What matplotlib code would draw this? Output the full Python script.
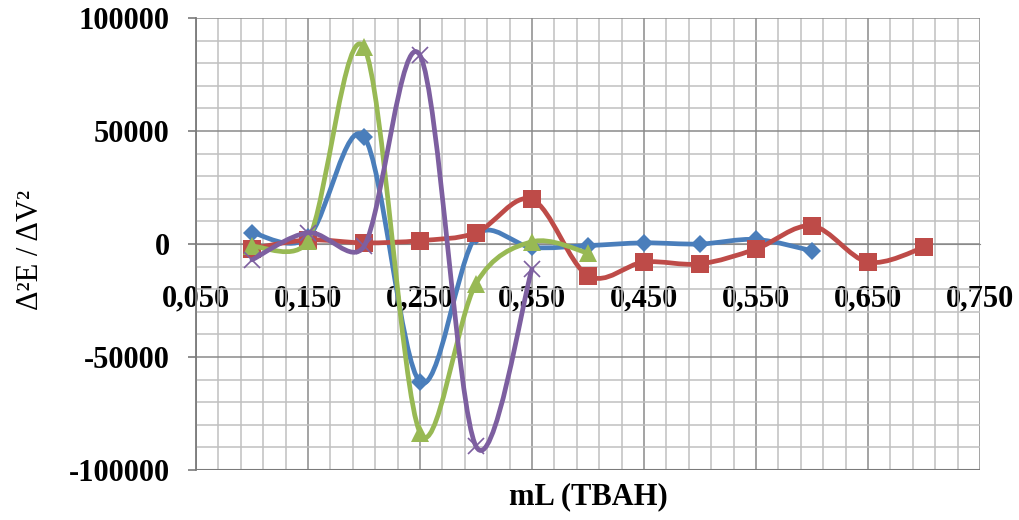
import numpy as np
import matplotlib
matplotlib.use("Agg")
import matplotlib.pyplot as plt
from matplotlib.path import Path
from matplotlib.patches import PathPatch
from matplotlib.ticker import FuncFormatter, MultipleLocator, FixedLocator

# titration volumes (mL) and second derivative values for each run
x_blue = [0.10, 0.15, 0.20, 0.25, 0.30, 0.35, 0.40, 0.45, 0.50, 0.55, 0.60]
blue = [5000, 3000, 47500, -61000, 3500, -1500, -700, 500, 0, 2000, -3000]

x_red = [0.10, 0.15, 0.20, 0.25, 0.30, 0.35, 0.40, 0.45, 0.50, 0.55, 0.60, 0.65, 0.70]
red = [-2000, 1800, 500, 1500, 5000, 19700, -14000, -8000, -8800, -2200, 8000, -8000, -1500]

x_green = [0.10, 0.15, 0.20, 0.25, 0.30, 0.35, 0.40]
green = [-1000, 1500, 87000, -83500, -17500, 1000, -4000]

x_purple = [0.10, 0.15, 0.20, 0.25, 0.30, 0.35]
purple = [-7000, 5000, -1000, 83500, -89500, -11000]

x_ticks = [0.05, 0.15, 0.25, 0.35, 0.45, 0.55, 0.65, 0.75]
y_ticks = [-100000, -50000, 0, 50000, 100000]

# pixel scale of the axes, used so the smoothing works on screen distances
SX = 784 / 0.70
SY = 452 / 200000


def smooth_path(xs, ys):
    # bezier through the points, tangents shortened on short segments
    pts = np.column_stack([xs, ys]).astype(float)
    scr = pts * [SX, SY]
    n = len(pts)

    def dist(a, b):
        return np.hypot(*(scr[b] - scr[a]))

    verts = [pts[0]]
    codes = [Path.MOVETO]
    for i in range(n - 1):
        i0, i3 = max(i - 1, 0), min(i + 2, n - 1)
        d01, d12, d23 = dist(i0, i), dist(i, i + 1), dist(i + 1, i3)
        k1 = 3 * d12 / (d01 + d12) if d01 > 0 else 1.0
        k2 = 3 * d12 / (d12 + d23) if d23 > 0 else 1.0
        c1 = pts[i] + (pts[i + 1] - pts[i0]) / 6 * min(k1, 1.0)
        c2 = pts[i + 1] - (pts[i3] - pts[i]) / 6 * min(k2, 1.0)
        verts += [c1, c2, pts[i + 1]]
        codes += [Path.CURVE4] * 3
    return Path(verts, codes)


font = "Liberation Serif"
fig = plt.figure(figsize=(10.2, 5.2), dpi=100)
ax = fig.add_axes([196 / 1020, 50 / 520, 784 / 1020, 452 / 520])

ax.set_xlim(0.05, 0.75)
ax.set_ylim(-100000, 100000)
ax.set_xticks(x_ticks)
ax.set_yticks(y_ticks)
ax.xaxis.set_minor_locator(FixedLocator(np.arange(36) * 0.02 + 0.05))
ax.yaxis.set_minor_locator(MultipleLocator(10000))
ax.grid(which="minor", color="#c0c0c0", lw=1.1)
ax.grid(which="major", color="#8a8a8a", lw=1.1)
ax.set_axisbelow(True)

ax.xaxis.set_major_formatter(FuncFormatter(lambda v, p: f"{v:.3f}".replace(".", ",")))
ax.yaxis.set_major_formatter(FuncFormatter(lambda v, p: f"{int(round(v))}"))

for s in ["top", "right"]:
    ax.spines[s].set_visible(False)
ax.spines["bottom"].set_position(("data", 0))
ax.spines["bottom"].set_color("#8a8a8a")
ax.spines["left"].set_color("#7a7a7a")
ax.spines["left"].set_linewidth(1.3)
ax.axhline(-100000, color="#7a7a7a", lw=1.5, zorder=1)

ax.tick_params(axis="x", which="both", length=0, pad=29)
ax.tick_params(axis="y", which="major", length=6, width=1.2, color="#7a7a7a", pad=13)
ax.tick_params(axis="y", which="minor", length=0)
for lab in ax.get_xticklabels() + ax.get_yticklabels():
    lab.set_fontfamily(font)
    lab.set_fontsize(22)
    lab.set_fontweight("bold")

series = [
    (x_blue, blue, "#4a7ebb", "D", 9.5),
    (x_red, red, "#be4b48", "s", 13),
    (x_green, green, "#98b954", "^", 13),
    (x_purple, purple, "#7d5fa0", "x", 12),
]
for k, (xs, ys, col, mk, ms) in enumerate(series):
    patch = PathPatch(smooth_path(xs, ys), facecolor="none", edgecolor=col, lw=3.4,
                      capstyle="round", joinstyle="round", zorder=3 + 2 * k)
    ax.add_patch(patch)
    ax.plot(xs, ys, linestyle="none", marker=mk, markersize=ms, color=col,
            markeredgewidth=1.2 if mk == "x" else 0, zorder=4 + 2 * k)

fig.text(588 / 1020, 1 - 497 / 520, "mL (TBAH)", family=font, fontsize=22,
         fontweight="bold", ha="center", va="center")
fig.text(31 / 1020, 1 - 250 / 520, "Δ²E / ΔV²", family=font, fontsize=22,
         ha="center", va="center", rotation=90)

fig.savefig("out.png", dpi=100)
